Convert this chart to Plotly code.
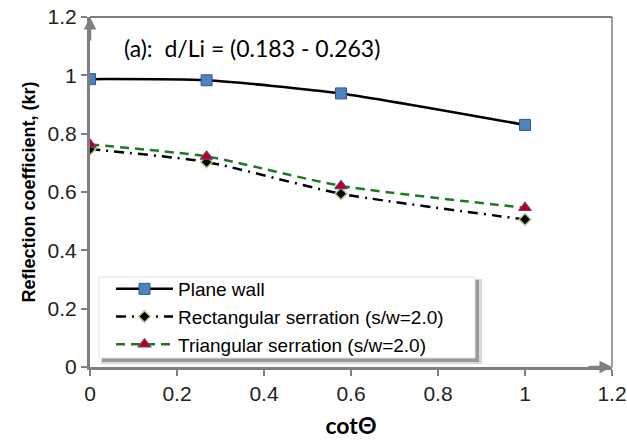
import plotly.graph_objects as go

cot_theta = [0.0, 0.268, 0.577, 1.0]
plane_wall = [0.987, 0.983, 0.938, 0.830]
rect_serration = [0.747, 0.703, 0.594, 0.506]
tri_serration = [0.763, 0.722, 0.621, 0.546]

names = ["Plane wall", "Rectangular serration (s/w=2.0)", "Triangular serration (s/w=2.0)"]
annot_text = "(a):  d/Li = (0.183 - 0.263)"
x_ticks = [0, 0.2, 0.4, 0.6, 0.8, 1, 1.2]
y_ticks = [0, 0.2, 0.4, 0.6, 0.8, 1, 1.2]

fig = go.Figure()
fig.add_trace(go.Scatter(
    x=cot_theta, y=plane_wall, name=names[0], mode="lines+markers",
    line=dict(color="black", width=2.5, shape="spline", smoothing=0.6),
    marker=dict(symbol="square", size=11, color="#4f81bd", line=dict(color="#2f5a8a", width=1)),
))
fig.add_trace(go.Scatter(
    x=cot_theta, y=rect_serration, name=names[1], mode="lines+markers",
    line=dict(color="black", width=2.5, dash="10px,6px,2px,6px", shape="spline", smoothing=0.6),
    marker=dict(symbol="diamond", size=9, color="black", line=dict(color="#b5c98a", width=1.5)),
))
fig.add_trace(go.Scatter(
    x=cot_theta, y=tri_serration, name=names[2], mode="lines+markers",
    line=dict(color="#1f7a1f", width=2.5, dash="9px,6px", shape="spline", smoothing=0.6),
    marker=dict(symbol="triangle-up", size=11, color="#c00000", line=dict(color="#6a3a9a", width=1.2)),
))

font_ax = "Liberation Sans, Arial, sans-serif"
PW, PH = 522.0, 350.0


def px_x(v):
    return (v - 90) / PW


def px_y(v):
    return (367 - v) / PH


legend_box = [
    dict(type="rect", xref="paper", yref="paper", x0=px_x(101), x1=px_x(482), y0=px_y(364), y1=px_y(279),
         fillcolor="rgba(150,150,150,0.35)", line=dict(width=0), layer="above"),
    dict(type="rect", xref="paper", yref="paper", x0=px_x(102), x1=px_x(479), y0=px_y(362), y1=px_y(280),
         fillcolor="rgba(110,110,110,0.6)", line=dict(width=0), layer="above"),
    dict(type="rect", xref="paper", yref="paper", x0=px_x(99), x1=px_x(475), y0=px_y(358), y1=px_y(277),
         fillcolor="white", line=dict(color="#e4e4e4", width=1), layer="above"),
]

fig.update_layout(
    width=627, height=448,
    margin=dict(l=90, r=15, t=17, b=81),
    paper_bgcolor="white", plot_bgcolor="white",
    showlegend=True,
    legend=dict(
        x=px_x(111), y=px_y(270), xanchor="left", yanchor="top",
        bgcolor="rgba(0,0,0,0)", borderwidth=0,
        font=dict(family=font_ax, size=19, color="black"),
        itemwidth=57, tracegroupgap=0,
    ),
    xaxis=dict(
        range=[0, 1.2], tickvals=x_ticks, showgrid=False, zeroline=False, automargin=False,
        ticklabeloverflow="allow",
        showline=True, linecolor="#808080", linewidth=3,
        ticks="outside", ticklen=6, tickcolor="#808080", tickwidth=2,
        tickfont=dict(family=font_ax, size=21, color="#222"),
        title=dict(text="<b>cotΘ</b>", font=dict(family="Lato, sans-serif", size=23, color="black"), standoff=14),
    ),
    yaxis=dict(
        range=[0, 1.2], tickvals=y_ticks, showgrid=False, zeroline=False, automargin=False,
        ticklabeloverflow="allow",
        showline=True, linecolor="#808080", linewidth=3,
        ticks="outside", ticklen=6, tickcolor="#808080", tickwidth=2,
        tickfont=dict(family=font_ax, size=21, color="#222"),
        title=dict(text="<b>Reflection coefficient, (kr)</b>", font=dict(family=font_ax, size=18, color="black"), standoff=8),
    ),
    shapes=[
        dict(type="line", xref="paper", yref="paper", x0=0, x1=1, y0=1, y1=1, line=dict(color="black", width=1)),
        dict(type="line", xref="paper", yref="paper", x0=1, x1=1, y0=0, y1=1, line=dict(color="#404040", width=1)),
    ] + legend_box,
    annotations=[
        dict(text=annot_text, xref="paper", yref="paper", x=0.061, y=0.911, xanchor="left", yanchor="middle",
             showarrow=False, font=dict(family="Lato, sans-serif", size=23, color="black")),
        dict(xref="paper", yref="paper", x=0, y=1.0, ax=0, ay=25, text="", showarrow=True,
             arrowhead=2, arrowsize=1, arrowwidth=2.5, arrowcolor="#808080"),
        dict(xref="paper", yref="paper", x=1.0, y=0, ax=-25, ay=0, text="", showarrow=True,
             arrowhead=2, arrowsize=1, arrowwidth=2.5, arrowcolor="#808080"),
    ],
)

fig.write_html("out.html", config={"displayModeBar": False},
               post_script="document.body.style.margin='0';")
